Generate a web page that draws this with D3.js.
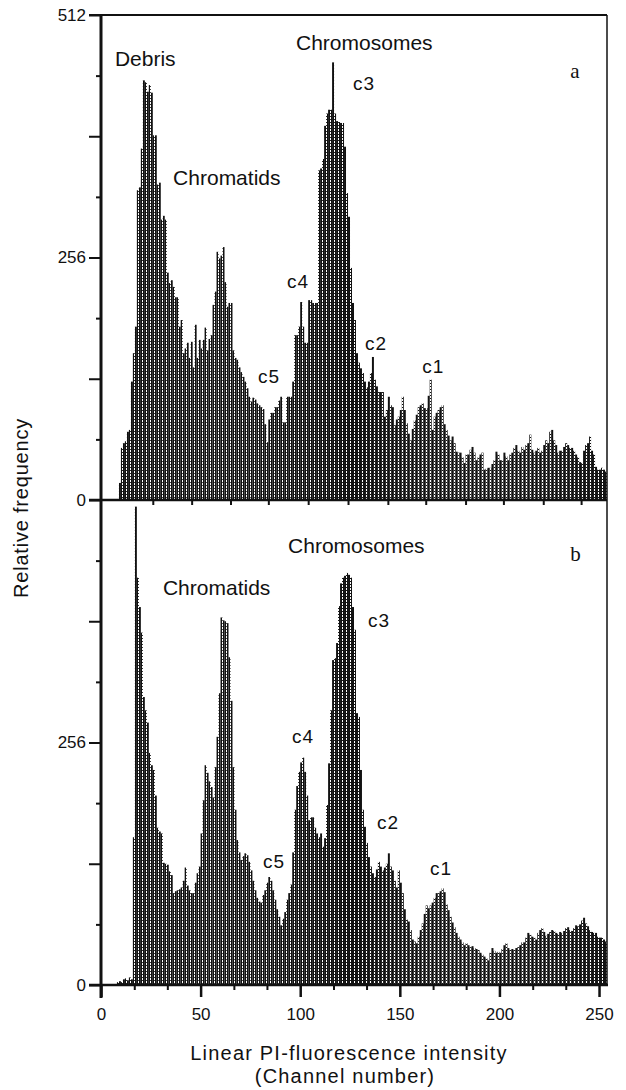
<!DOCTYPE html>
<html>
<head>
<meta charset="utf-8">
<script src="https://cdn.jsdelivr.net/npm/d3@7"></script>
<style>
    body { margin: 0; background: #fff; }
    svg text { font-family: "Liberation Sans", Arial, sans-serif; fill: #111; }
    .tick line { stroke: #111; }
</style>
</head>
<body>
<div id="chart"></div>
<script>
(function()
{
    "use strict";

    // ################ data ################
    // counts per channel (0..255), panel a then panel b
    var countsA = [
        0,0,0,0,0,0,0,0,0,18,55,60,62,72,74,125,
        155,183,327,330,371,443,441,431,438,430,385,385,333,335,296,300,
        296,240,229,232,225,214,214,183,190,155,160,166,150,167,140,185,
        150,169,160,169,182,158,170,174,206,220,262,255,258,267,230,204,
        208,208,158,150,148,140,135,130,125,118,109,104,108,106,102,100,
        98,96,80,61,85,92,92,98,98,105,109,82,82,109,109,109,
        125,174,174,183,209,183,166,166,211,211,208,208,208,348,350,360,
        395,408,412,412,462,408,400,399,398,398,373,324,299,245,208,190,
        155,145,139,134,125,119,125,134,151,127,120,114,114,114,88,95,
        109,100,98,79,85,88,95,109,95,81,70,63,75,84,90,98,
        100,102,97,97,110,127,74,88,92,95,98,100,80,74,68,63,
        67,60,51,50,50,45,39,48,48,53,56,50,42,45,48,50,
        32,33,34,34,38,42,51,48,42,42,50,46,42,48,50,55,
        58,52,50,56,53,58,60,69,53,50,52,55,50,52,58,63,
        60,72,74,63,58,50,52,52,56,60,58,55,55,52,48,45,
        40,39,52,58,60,67,52,48,35,32,32,34,32,30,0,0
    ];
    var countsB = [
        0,0,0,0,0,0,0,0,3,4,3,6,7,5,8,6,
        156,505,430,399,372,304,290,277,245,232,227,200,166,162,160,129,
        128,127,120,116,97,99,100,101,103,110,124,105,100,97,97,108,
        118,125,160,195,232,224,215,209,198,230,262,308,388,385,384,382,
        346,300,230,185,153,140,132,136,139,137,130,121,110,100,92,88,
        87,95,100,108,114,110,100,90,80,72,63,70,77,90,97,106,
        140,185,210,225,235,240,225,200,174,177,177,166,160,156,160,146,
        155,190,234,290,343,345,361,400,424,430,432,435,433,430,399,375,
        287,283,227,185,167,150,135,125,118,114,122,130,125,121,124,128,
        139,125,121,110,103,121,108,97,80,69,67,58,48,46,44,51,
        58,65,75,84,81,84,87,92,97,97,99,102,98,85,79,72,
        66,61,55,51,48,45,42,44,42,40,41,39,38,37,34,32,
        30,28,26,34,39,36,34,35,34,38,42,44,39,37,38,37,
        39,40,42,45,45,50,55,53,51,50,48,55,58,60,56,52,
        54,56,58,57,55,54,56,55,57,60,61,58,57,60,63,62,
        64,68,71,65,62,58,56,55,55,51,50,50,48,46,0,0
    ];

    var xTicks      = [0, 50, 100, 150, 200, 250];
    var xMinorTicks = [16.7, 33.3, 66.7, 83.3, 116.7, 133.3, 166.7, 183.3, 216.7, 233.3];
    var xTicksA     = [26, 45.5, 65, 84, 104, 124, 144, 163, 183, 202, 222, 241];
    var yTicksA     = [0, 128, 256, 384, 512];
    var yTicksB     = [0, 128, 256, 384];
    var yMinorTicks = [64, 192, 320, 448];
    var yLabels     = [0, 256, 512];

    // peak labels: text, channel, count
    var labelsA = [
        ["Debris", 7, 458], ["Chromatids", 36.2, 333], ["Chromosomes", 97.9, 475],
        ["c3", 126.5, 433], ["c4", 93.4, 224], ["c5", 78.8, 123],
        ["c2", 132.5, 158], ["c1", 161.2, 134]
    ];
    var labelsB = [
        ["Chromosomes", 93.9, 456], ["Chromatids", 31.1, 412],
        ["c3", 134, 378], ["c4", 95.9, 255], ["c5", 81.3, 124],
        ["c2", 138.5, 165], ["c1", 165.2, 116]
    ];
    var panelNames = [["a", 235.5, 446], ["b", 235.5, 448]];

    // ################ layout ################
    var W = 626, H = 1090;
    var left = 101, right = 607;
    var topA = 15, botA = 500, topB = 500, botB = 985;

    var svg = d3.select("#chart").append("svg")
                .attr("width", W).attr("height", H);

    // stipple used by the bars
    var pat = svg.append("defs").append("pattern")
                 .attr("id", "stip")
                 .attr("patternUnits", "userSpaceOnUse")
                 .attr("width", 4).attr("height", 3);
    pat.append("rect").attr("width", 4).attr("height", 3).attr("fill", "#111");
    pat.append("rect").attr("x", 2).attr("y", 0).attr("width", 1).attr("height", 2).attr("fill", "#fff");

    var x = d3.scaleLinear().domain([0, 254]).range([left, right]);
    var yA = d3.scaleLinear().domain([0, 512]).range([botA, topA]);
    var yB = d3.scaleLinear().domain([0, 512]).range([botB, topB]);

    function drawBars(counts, y, cls)
    {
        svg.append("g").attr("class", cls)
           .selectAll("rect")
           .data(counts.map(function(v, i) { return {ch: i, v: v}; })
                       .filter(function(d) { return d.v > 0; }))
           .enter().append("rect")
           .attr("x", function(d) { return x(d.ch); })
           .attr("width", function(d) { return x(d.ch + 1) - x(d.ch); })
           .attr("y", function(d) { return y(d.v); })
           .attr("height", function(d) { return y(0) - y(d.v); })
           .attr("fill", "url(#stip)");
    }
    drawBars(countsA, yA, "barsA");
    drawBars(countsB, yB, "barsB");

    // ################ axes ################
    function yAxis(y, major)
    {
        svg.append("g").attr("transform", `translate(${left},0)`)
           .call(d3.axisLeft(y).tickValues(major).tickSize(12).tickPadding(3)
                   .tickFormat(function(d) { return yLabels.indexOf(d) >= 0 ? d : ""; }))
           .call(function(g) { g.select(".domain").remove(); })
           .call(function(g) { g.selectAll("text").style("font-size", "17px"); })
           .selectAll("line").attr("stroke-width", 2);
        svg.append("g").attr("transform", `translate(${left},0)`)
           .call(d3.axisLeft(y).tickValues(yMinorTicks).tickSize(5).tickFormat(""))
           .call(function(g) { g.select(".domain").remove(); })
           .selectAll("line").attr("stroke-width", 2);
    }
    yAxis(yA, yTicksA);
    yAxis(yB, yTicksB);

    // bottom axis of panel b, labelled
    svg.append("g").attr("transform", `translate(0,${botB})`)
       .call(d3.axisBottom(x).tickValues(xTicks).tickSize(12).tickPadding(11))
       .call(function(g) { g.select(".domain").remove(); })
       .call(function(g) { g.selectAll("text").style("font-size", "17px"); })
       .selectAll("line").attr("stroke-width", 2.5);
    svg.append("g").attr("transform", `translate(0,${botB})`)
       .call(d3.axisBottom(x).tickValues(xMinorTicks).tickSize(5).tickFormat(""))
       .call(function(g) { g.select(".domain").remove(); })
       .selectAll("line").attr("stroke-width", 2);

    // panel a keeps its own small ticks on the shared line
    svg.append("g").attr("transform", `translate(0,${botA})`)
       .call(d3.axisBottom(x).tickValues(xTicksA).tickSize(5).tickFormat(""))
       .call(function(g) { g.select(".domain").remove(); })
       .selectAll("line").attr("stroke-width", 2);

    // frame
    var frame = svg.append("g").attr("stroke", "#111").attr("fill", "none");
    frame.append("line").attr("x1", left).attr("x2", left).attr("y1", topA - 1).attr("y2", botB + 13).attr("stroke-width", 3);
    frame.append("line").attr("x1", left - 12).attr("x2", right).attr("y1", topA).attr("y2", topA).attr("stroke-width", 2);
    frame.append("line").attr("x1", left - 12).attr("x2", right).attr("y1", botA).attr("y2", botA).attr("stroke-width", 2.5);
    frame.append("line").attr("x1", left - 12).attr("x2", right + 1).attr("y1", botB).attr("y2", botB).attr("stroke-width", 2.5);
    frame.append("line").attr("x1", right).attr("x2", right).attr("y1", topA).attr("y2", botB).attr("stroke-width", 1.5);

    // ################ texts ################
    function peakLabels(list, y)
    {
        svg.append("g").selectAll("text")
           .data(list).enter().append("text")
           .attr("x", function(d) { return x(d[1]); })
           .attr("y", function(d) { return y(d[2]); })
           .style("font-size", function(d) { return d[0].length > 2 ? "21px" : "19px"; })
           .style("letter-spacing", function(d) { return d[0].length > 2 ? "0px" : "1px"; })
           .text(function(d) { return d[0]; });
    }
    peakLabels(labelsA, yA);
    peakLabels(labelsB, yB);

    svg.append("g").selectAll("text")
       .data(panelNames).enter().append("text")
       .attr("x", function(d) { return x(d[1]); })
       .attr("y", function(d, i) { return (i === 0 ? yA : yB)(d[2]); })
       .style("font-family", "'Liberation Serif', 'Times New Roman', serif")
       .style("font-size", "21px")
       .text(function(d) { return d[0]; });

    svg.append("text")
       .attr("transform", "translate(28,508) rotate(-90)")
       .attr("text-anchor", "middle")
       .style("font-size", "20px").style("letter-spacing", "0.8px")
       .text("Relative frequency");

    svg.append("text")
       .attr("x", 349).attr("y", 1060)
       .attr("text-anchor", "middle")
       .style("font-size", "20px").style("letter-spacing", "1.2px")
       .text("Linear PI-fluorescence intensity");
    svg.append("text")
       .attr("x", 345).attr("y", 1083)
       .attr("text-anchor", "middle")
       .style("font-size", "20px").style("letter-spacing", "1.2px")
       .text("(Channel number)");
}
)();
</script>
</body>
</html>
